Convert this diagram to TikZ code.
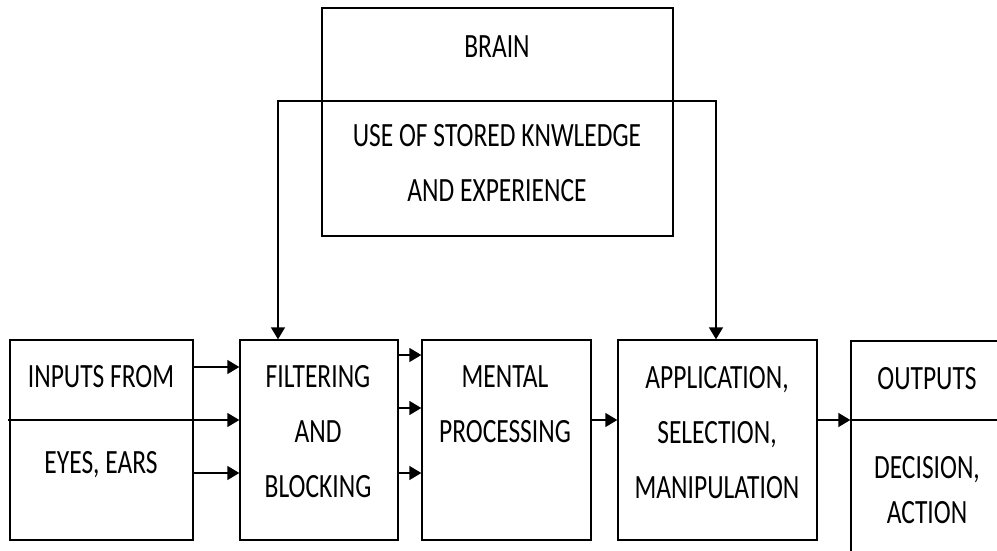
\documentclass[tikz,border=0pt]{standalone}
\usepackage{fontspec}
\setmainfont{Carlito}
\usetikzlibrary{arrows.meta}

\tikzset{
  blk/.style={draw, line width=1.4pt, inner sep=0pt},
  lbl/.style={align=center, inner sep=0pt, xscale=0.75, transform shape,
    font=\fontsize{34}{55}\selectfont},
  tip/.tip={Triangle[length=12pt,width=14pt]},
  arr/.style={-tip, line width=1.4pt},
}

\begin{document}
\begin{tikzpicture}[x=1pt,y=-1pt]
     \useasboundingbox (0,0) rectangle (997,550);

     %Brain
     \node[blk, minimum width=351pt, minimum height=228pt] (brain) at (497.5,122) {};
     \node[lbl] (brain-t) at (497,47) {BRAIN};
     \node[lbl] (know-t) at (497,163) {USE OF STORED KNWLEDGE\\AND EXPERIENCE};

     %Blocks
     \node[blk, minimum width=183pt, minimum height=200pt] (inp)  at (101.5,440) {};
     \node[blk, minimum width=158pt, minimum height=200pt] (filt) at (319,440) {};
     \node[blk, minimum width=169pt, minimum height=200pt] (ment) at (506.5,440) {};
     \node[blk, minimum width=199pt, minimum height=200pt] (appl) at (717.5,440) {};
     \node[blk, minimum width=160pt, minimum height=220pt] (outp) at (931,451) {};

     \node[lbl] (inp-t1) at (101,377) {INPUTS FROM};
     \node[lbl] (inp-t2) at (101,465) {EYES, EARS};
     \node[lbl] (filt-t) at (318,432) {FILTERING\\AND\\BLOCKING};
     \node[lbl] (ment-t) at (505,404) {MENTAL\\PROCESSING};
     \node[lbl] (appl-t) at (717,433) {APPLICATION,\\SELECTION,\\MANIPULATION};
     \node[lbl] (outp-t1) at (927,379) {OUTPUTS};
     \node[lbl, font=\fontsize{34}{45}\selectfont] (outp-t2) at (927,490) {DECISION,\\ACTION};

     %Connectors
     \coordinate (mid) at (0,420);
     \coordinate (sl) at (8,420);
     \coordinate (kl) at (278,101);
     \coordinate (kr) at (716,101);
     \draw[tip-tip, line width=1.4pt] (filt.north -| kl) |- (kr) -- (appl.north -| kr);
     \draw[arr] (sl) -- (filt.west |- sl);
     \draw[arr] ([yshift=73pt]inp.east) -- ([yshift=73pt]filt.west);
     \draw[arr] ([yshift=-33pt]inp.east) -- ([yshift=-33pt]filt.west);
     \draw[arr] ([yshift=85pt]filt.east) -- ([yshift=85pt]ment.west);
     \draw[arr] ([yshift=32pt]filt.east) -- ([yshift=32pt]ment.west);
     \draw[arr] ([yshift=-33pt]filt.east) -- ([yshift=-33pt]ment.west);
     \draw[arr] (ment.east |- mid) -- (appl.west |- mid);
     \draw[arr] (appl.east |- mid) -- (outp.west |- mid);
     \draw[line width=1.4pt] (outp.west |- mid) -- (outp.east |- mid);

    \end{tikzpicture}
\end{document}
